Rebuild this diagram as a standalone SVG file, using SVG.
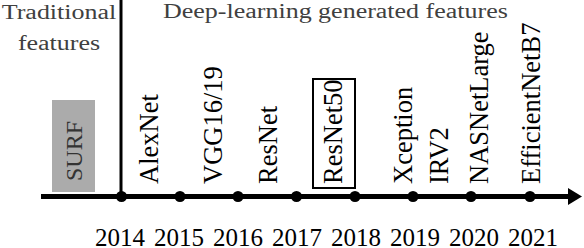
<svg xmlns="http://www.w3.org/2000/svg" width="584" height="248" viewBox="0 0 584 248">
<style>
text{font-family:"Liberation Serif","Times New Roman",serif}
.hdr{font-size:26px;fill:#404040}
.lbl{font-size:26.5px;fill:#000}
.yr{font-size:25px;fill:#000;text-anchor:middle}
.dot{fill:#000}
</style>
<rect width="584" height="248" fill="#fff"/>
<g id="headers">
<text class="hdr" text-anchor="middle" transform="translate(59,18.5) scale(1,0.8)">Traditional</text>
<text class="hdr" text-anchor="middle" transform="translate(59,50) scale(1,0.8)">features</text>
<text class="hdr" transform="translate(163,18) scale(1,0.8)">Deep-learning generated features</text>
</g>
<g id="connectors">
<line x1="121" y1="0" x2="121" y2="197" stroke="#000" stroke-width="3"/>
<line x1="41" y1="196.5" x2="570" y2="196.5" stroke="#000" stroke-width="5"/>
<polygon points="568,188 582,196.5 568,205" fill="#000"/>
</g>
<g id="dots">
<circle class="dot" cx="121.5" cy="196.5" r="5.5"/>
<circle class="dot" cx="180" cy="196.5" r="5.5"/>
<circle class="dot" cx="238" cy="196.5" r="5.5"/>
<circle class="dot" cx="296.5" cy="196.5" r="5.5"/>
<circle class="dot" cx="355" cy="196.5" r="5.5"/>
<circle class="dot" cx="413" cy="196.5" r="5.5"/>
<circle class="dot" cx="471" cy="196.5" r="5.5"/>
<circle class="dot" cx="530" cy="196.5" r="5.5"/>
</g>
<g id="years">
<text class="yr" x="120" y="245.5">2014</text>
<text class="yr" x="179" y="245.5">2015</text>
<text class="yr" x="238" y="245.5">2016</text>
<text class="yr" x="297" y="245.5">2017</text>
<text class="yr" x="356" y="245.5">2018</text>
<text class="yr" x="415" y="245.5">2019</text>
<text class="yr" x="474" y="245.5">2020</text>
<text class="yr" x="533" y="245.5">2021</text>
</g>
<g id="node-surf">
<rect x="52" y="100" width="43" height="92" fill="#ababab"/>
<text font-size="24" fill="#333" transform="translate(82,181) rotate(-90)">SURF</text>
</g>
<g id="node-alexnet"><text class="lbl" transform="translate(158,184) rotate(-90)">AlexNet</text></g>
<g id="node-vgg"><text class="lbl" transform="translate(221.5,184) rotate(-90)">VGG16/19</text></g>
<g id="node-resnet"><text class="lbl" transform="translate(277,184) rotate(-90)">ResNet</text></g>
<g id="node-resnet50">
<rect x="313" y="79" width="42" height="109" fill="none" stroke="#000" stroke-width="2"/>
<text class="lbl" transform="translate(341.5,184) rotate(-90)">ResNet50</text>
</g>
<g id="node-xception"><text class="lbl" transform="translate(411.5,184) rotate(-90)">Xception</text></g>
<g id="node-irv2"><text class="lbl" transform="translate(448,184) rotate(-90)">IRV2</text></g>
<g id="node-nasnetlarge"><text class="lbl" transform="translate(488,184) rotate(-90)">NASNetLarge</text></g>
<g id="node-efficientnetb7"><text class="lbl" transform="translate(539.5,184) rotate(-90)">EfficientNetB7</text></g>
</svg>
